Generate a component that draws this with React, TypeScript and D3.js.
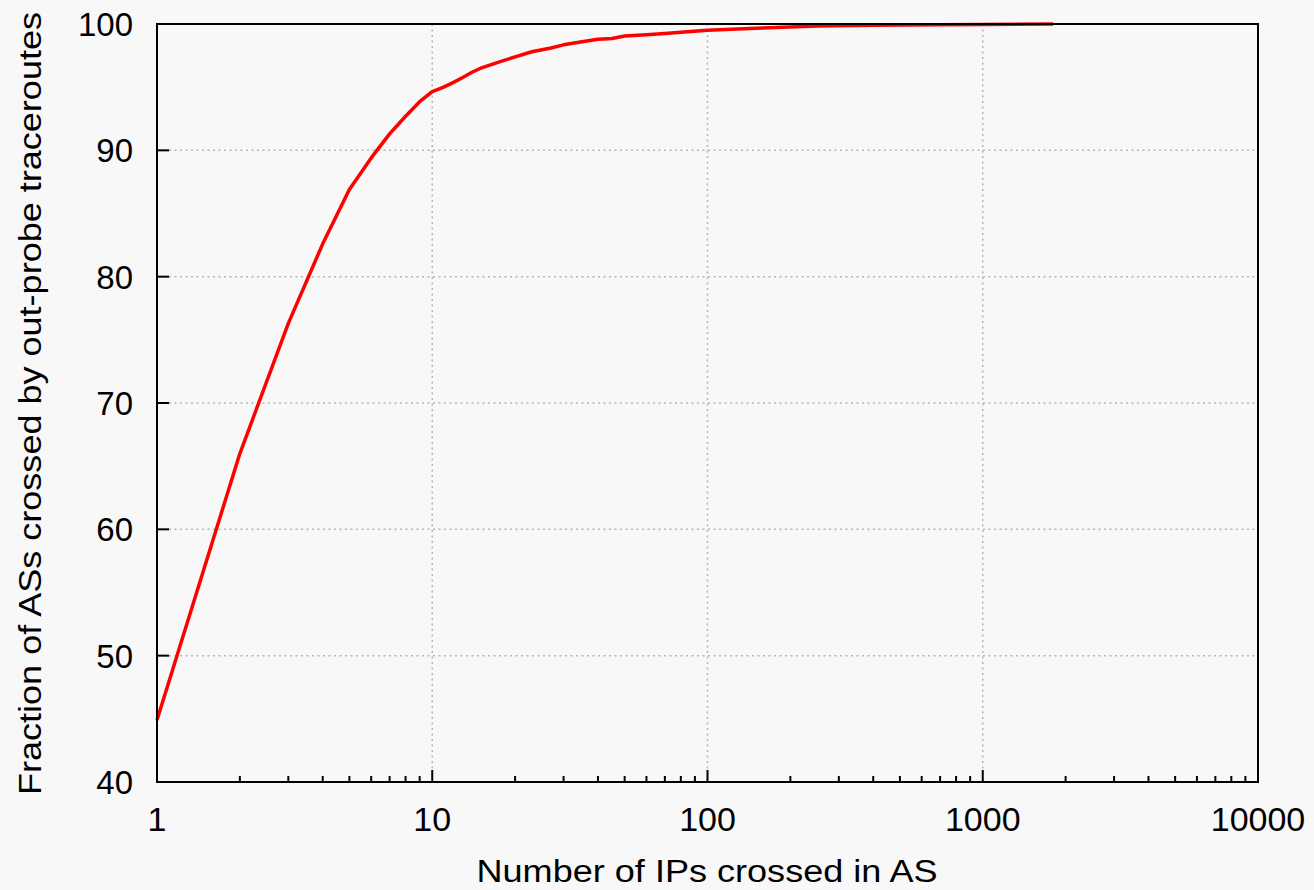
import React from 'react';
import * as d3 from 'd3';

// CDF values (x = number of IPs, y = percent of ASs)
const ipCounts = [1, 2, 3, 4, 5, 6, 7, 8, 9, 10, 11, 12, 13, 14, 15, 17, 20, 23, 27, 30, 35, 40, 45, 50, 60, 70, 80, 100, 150, 250, 400, 700, 1000, 1800];
const fractions = [44.9, 66.0, 76.3, 82.6, 86.9, 89.4, 91.3, 92.7, 93.85, 94.65, 95.0, 95.4, 95.8, 96.2, 96.5, 96.9, 97.4, 97.8, 98.1, 98.35, 98.6, 98.8, 98.85, 99.05, 99.15, 99.25, 99.35, 99.5, 99.66, 99.84, 99.9, 99.95, 99.97, 100];

const xMajor = [1, 10, 100, 1000, 10000];
const yMajor = [40, 50, 60, 70, 80, 90, 100];
const xTitle = 'Number of IPs crossed in AS';
const yTitle = 'Fraction of ASs crossed by out-probe traceroutes';

export default function App() {
  const width = 1314;
  const height = 890;
  const left = 157, right = 1258, top = 24, bottom = 782;
  const font = '"Liberation Sans", Arial, Helvetica, sans-serif';

  const x = d3.scaleLog().domain([1, 10000]).range([left, right]);
  const y = d3.scaleLinear().domain([40, 100]).range([bottom, top]);

  const line = d3.line<number>()
    .x((d, i) => x(ipCounts[i]))
    .y(d => y(d))
    .curve(d3.curveLinear);

  // minor ticks 2..9 in every decade
  const xMinor: number[] = [];
  for (let dec = 1; dec < 10000; dec *= 10) {
    for (let m = 2; m <= 9; m++) xMinor.push(dec * m);
  }

  return (
    <svg width={width} height={height} style={{ position: 'absolute', left: 0, top: 0 }}>
      <rect x={0} y={0} width={width} height={height} fill='#f8f8f8' />

      {/* grid */}
      <g stroke='#b4b4b4' strokeWidth={1.5} strokeDasharray='2,3.5'>
        {yMajor.filter(v => v > 40 && v < 100).map(v => (
          <line key={'gy' + v} x1={left + 12} x2={right} y1={y(v)} y2={y(v)} />
        ))}
        {xMajor.filter(v => v > 1 && v < 10000).map(v => (
          <line key={'gx' + v} x1={x(v)} x2={x(v)} y1={top} y2={bottom - 12} />
        ))}
      </g>

      {/* ticks */}
      <g stroke='#000' strokeWidth={2}>
        {yMajor.map(v => (
          <line key={'ty' + v} x1={left} x2={left + 12} y1={y(v)} y2={y(v)} />
        ))}
        {xMajor.map(v => (
          <line key={'tx' + v} x1={x(v)} x2={x(v)} y1={bottom} y2={bottom - 12} />
        ))}
        {xMinor.map(v => (
          <line key={'tm' + v} x1={x(v)} x2={x(v)} y1={bottom} y2={bottom - 6} />
        ))}
      </g>

      {/* curve */}
      <path d={line(fractions) || ''} fill='none' stroke='#ff0000' strokeWidth={3.5} strokeLinejoin='round' />

      {/* frame */}
      <rect x={left} y={top} width={right - left} height={bottom - top} fill='none' stroke='#000' strokeWidth={2} />

      {/* tick labels */}
      <g fontFamily={font} fill='#000'>
        {yMajor.map(v => (
          <text key={'ly' + v} x={133} y={y(v)} dy='0.36em' fontSize={33} textAnchor='end'>{v}</text>
        ))}
        {xMajor.map(v => (
          <text key={'lx' + v} x={x(v)} y={831} fontSize={34} textAnchor='middle'>{v}</text>
        ))}
      </g>

      {/* axis titles */}
      <text x={707} y={882} fontFamily={font} fontSize={31} textAnchor='middle'
        textLength={461} lengthAdjust='spacingAndGlyphs'>{xTitle}</text>
      <text transform='translate(41,403.5) rotate(-90)' fontFamily={font} fontSize={32} textAnchor='middle'
        textLength={783} lengthAdjust='spacingAndGlyphs'>{yTitle}</text>
    </svg>
  );
}
